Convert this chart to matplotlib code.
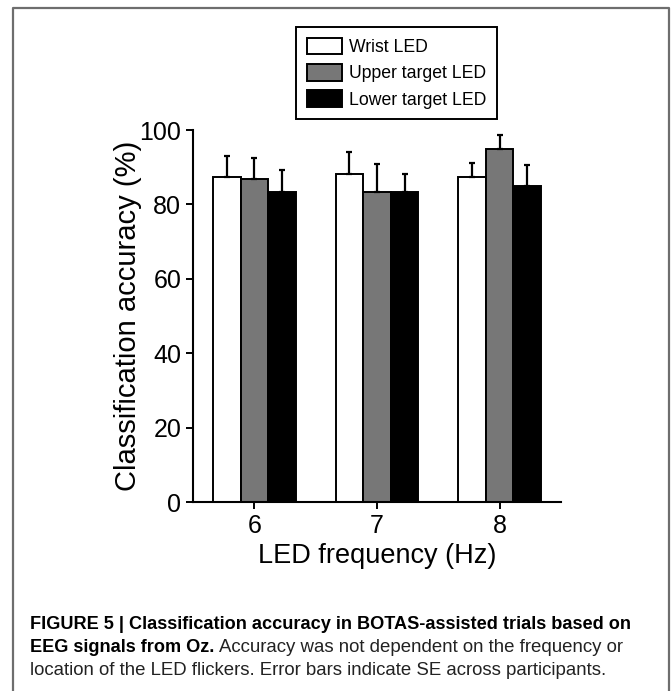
import numpy as np
import matplotlib.pyplot as plt
from matplotlib.lines import Line2D
from matplotlib import font_manager

# data
freqs = [6, 7, 8]
series = ['Wrist LED', 'Upper target LED', 'Lower target LED']
wrist = [87.5, 88.3, 87.5]
wrist_se = [5.6, 5.7, 3.5]
upper = [86.7, 83.3, 95.0]
upper_se = [5.8, 7.5, 3.7]
lower = [83.3, 83.3, 85.0]
lower_se = [5.9, 4.8, 5.6]

plt.rcParams['font.family'] = ['Liberation Sans', 'DejaVu Sans']

names = {f.name for f in font_manager.fontManager.ttflist}
narrow = 'Liberation Sans Narrow' if 'Liberation Sans Narrow' in names else 'Liberation Sans'


def main():
    fig = plt.figure(figsize=(6.71, 6.91), dpi=100)
    ax = fig.add_axes([193 / 671, 1 - 502 / 691, (561 - 193) / 671, (502 - 130) / 691])

    x = np.array(freqs, dtype=float)
    w = 0.225
    colors = ['white', '#777777', 'black']
    vals = [wrist, upper, lower]
    errs = [wrist_se, upper_se, lower_se]
    for i, (v, e, c, lab) in enumerate(zip(vals, errs, colors, series)):
        xi = x + (i - 1) * w
        ax.bar(xi, v, width=w, color=c, edgecolor='black', linewidth=1.4, label=lab, zorder=2)
        ax.errorbar(xi, v, yerr=[np.zeros(len(e)), e], fmt='none', ecolor='black',
                    elinewidth=1.6, capsize=2.5, capthick=1.6, zorder=3)

    ax.set_xlim(5.5, 8.5)
    ax.set_ylim(0, 100)
    ax.set_xticks(freqs)
    ax.set_yticks([0, 20, 40, 60, 80, 100])
    ax.tick_params(labelsize=18, width=1.4, length=5, direction='out')
    ax.spines['top'].set_visible(False)
    ax.spines['right'].set_visible(False)
    for s in ['left', 'bottom']:
        ax.spines[s].set_linewidth(1.5)
    ax.set_xlabel('LED frequency (Hz)', fontsize=19.5, labelpad=4)
    ax.set_ylabel('Classification accuracy (%)', fontsize=21, labelpad=-2)

    leg = fig.legend(loc='upper left', bbox_to_anchor=(296 / 671, 1 - 27 / 691),
                     borderaxespad=0, fontsize=12.7, fancybox=False, edgecolor='black',
                     framealpha=1, handlelength=2.0, handleheight=1.08, handletextpad=0.4,
                     labelspacing=0.45, borderpad=0.6)
    leg.get_frame().set_linewidth(1.4)

    # frame around the panel
    fig.add_artist(Line2D([12.5 / 671, 12.5 / 671, 668.5 / 671, 668.5 / 671],
                          [0, 1 - 7.5 / 691, 1 - 7.5 / 691, 0],
                          transform=fig.transFigure, color='#6e6e6e', lw=1.6))

    # caption
    cx = 30 / 671
    fig.text(cx, 1 - 629 / 691,
             'FIGURE 5 | Classification accuracy in BOTAS-assisted trials based on',
             fontsize=13.1, fontweight='bold', family=[narrow, 'DejaVu Sans'], va='baseline')
    t2 = fig.text(cx, 1 - 652 / 691, 'EEG signals from Oz.',
                  fontsize=13.1, fontweight='bold', family=[narrow, 'DejaVu Sans'], va='baseline')
    ax.annotate('Accuracy was not dependent on the frequency or', xy=(1, 0), xycoords=t2,
                xytext=(3, 0), textcoords='offset points', va='bottom', ha='left',
                fontsize=13.4, color='#222222', annotation_clip=False)
    fig.text(cx, 1 - 675 / 691,
             'location of the LED flickers. Error bars indicate SE across participants.',
             fontsize=13.4, color='#222222', va='baseline')

    fig.savefig('out.png', dpi=100)


if __name__ == '__main__':
    main()
